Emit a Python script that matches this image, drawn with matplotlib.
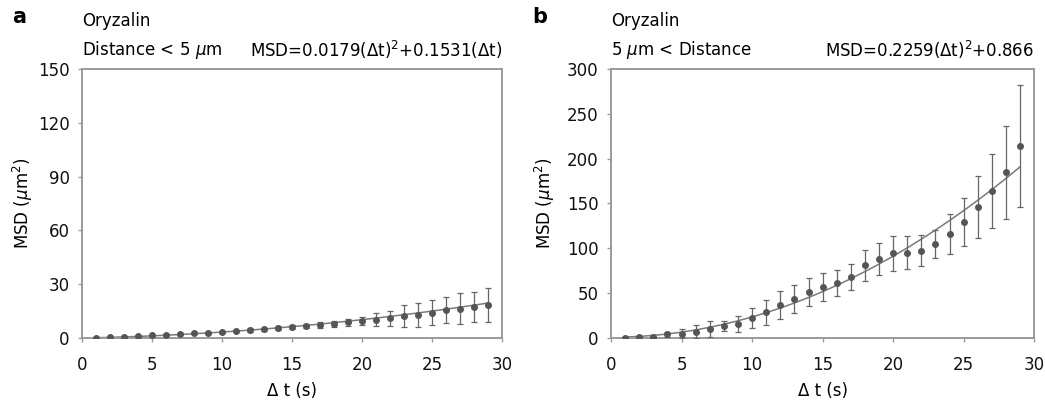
import numpy as np
import matplotlib.pyplot as plt

plt.rcParams['font.family'] = ['DejaVu Sans']

# время задержки, с
dt = list(range(1, 30))

# панель a: Distance < 5 um
msd_a = [0.2, 0.4, 0.7, 1.0, 1.4, 1.8, 2.2, 2.6, 3.0, 3.4, 3.9, 4.4, 4.8, 5.5, 6.0,
         6.6, 7.2, 8.0, 8.7, 9.5, 10.2, 10.9, 12.2, 13.0, 14.2, 15.6, 16.4, 17.3, 18.3]
err_a = [0.2, 0.2, 0.3, 0.3, 0.4, 0.4, 0.5, 0.5, 0.6, 0.6, 0.8, 0.9, 1.0, 1.1, 1.2,
         1.3, 1.5, 1.7, 1.9, 2.2, 3.5, 4.0, 6.0, 6.7, 7.0, 7.5, 8.5, 8.3, 9.3]
fit_a = [0.0179, 0.1531, 0.0]  # a*t^2 + b*t + c

# панель b: 5 um < Distance
msd_b = [0.5, 1.0, 1.5, 4.0, 5.0, 7.0, 10.0, 13.4, 15.6, 22.0, 28.6, 36.8, 43.5, 51.0, 56.5,
         61.7, 67.6, 81.0, 87.7, 94.4, 95.0, 97.3, 104.8, 116.0, 129.0, 146.4, 164.0, 184.7, 214.0]
err_b = [0.5, 0.8, 1.2, 2.5, 5.0, 7.0, 8.5, 5.5, 8.7, 11.0, 14.0, 15.4, 15.8, 15.7, 15.5,
         14.5, 14.5, 17.6, 18.0, 19.5, 18.5, 17.0, 16.0, 22.0, 27.0, 34.5, 41.0, 52.0, 68.5]
fit_b = [0.2259, 0.0, 0.866]

panels = [
    dict(letter='a', sub='Distance < 5 $\\mu$m', eq='MSD=0.0179(Δt)$^2$+0.1531(Δt)',
         y=msd_a, e=err_a, fit=fit_a, ymax=150, yticks=[0, 30, 60, 90, 120, 150],
         rect=[0.0785, 0.1736, 0.402, 0.658], lx=0.0115, ylpad=2),
    dict(letter='b', sub='5 $\\mu$m < Distance', eq='MSD=0.2259(Δt)$^2$+0.866',
         y=msd_b, e=err_b, fit=fit_b, ymax=300, yticks=[0, 50, 100, 150, 200, 250, 300],
         rect=[0.5847, 0.1736, 0.405, 0.658], lx=0.509, ylpad=7),
]

fig = plt.figure(figsize=(10.45, 4.09), dpi=100)
spine_col = '#9a9a9a'

for p in panels:
    ax = fig.add_axes(p['rect'])
    t = np.array(dt, dtype=float)
    a, b, c = p['fit']
    ax.plot(t, a * t**2 + b * t + c, color='#7a7a7a', lw=1.1, zorder=2)
    ax.errorbar(dt, p['y'], yerr=p['e'], fmt='o', ms=4.0, color='#555555',
                ecolor='#666666', elinewidth=0.9, capsize=2, capthick=0.9, zorder=3)
    ax.set_xlim(0, 30)
    ax.set_ylim(0, p['ymax'])
    ax.set_xticks([0, 5, 10, 15, 20, 25, 30])
    ax.set_yticks(p['yticks'])
    for s in ax.spines.values():
        s.set_color(spine_col)
        s.set_linewidth(1.4)
    ax.tick_params(direction='out', length=3, width=1, color=spine_col,
                   labelsize=12, labelcolor='#111111')
    ax.tick_params(axis='x', pad=10)
    ax.tick_params(axis='y', pad=6)
    ax.set_xlabel('Δ t (s)', fontsize=12, labelpad=6)
    ax.set_ylabel('MSD ($\\mu$m$^2$)', fontsize=12, labelpad=p['ylpad'])

    x0 = p['rect'][0]
    x1 = p['rect'][0] + p['rect'][2]
    fig.text(p['lx'], 0.958, p['letter'], fontsize=15, fontweight='bold', va='center')
    fig.text(x0, 0.949, 'Oryzalin', fontsize=12, va='center')
    fig.text(x0, 0.878, p['sub'], fontsize=12, va='center')
    fig.text(x1, 0.878, p['eq'], fontsize=12, va='center', ha='right')

plt.savefig('out.png', dpi=100)
